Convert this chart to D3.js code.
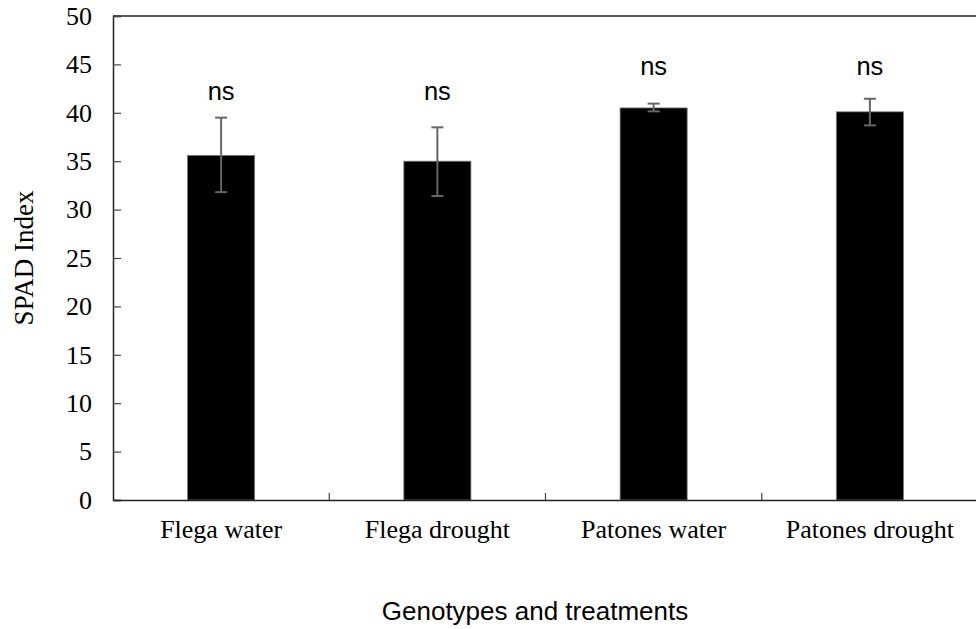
<!DOCTYPE html>
<html>
<head>
<meta charset="utf-8">
<script src="https://cdn.jsdelivr.net/npm/d3@7"></script>
<style>
  html, body { margin: 0; padding: 0; background: #fff; }
  svg { display: block; }
</style>
</head>
<body>
<svg id="chart" width="976" height="629"></svg>
<script>
// SPAD chlorophyll index per genotype × water treatment
const categories = ["Flega water", "Flega drought", "Patones water", "Patones drought"];
const means      = [35.6, 35.0, 40.5, 40.1];
const errLow     = [31.8, 31.4, 40.15, 38.7];
const errHigh    = [39.5, 38.5, 40.95, 41.45];
const sigLabels  = ["ns", "ns", "ns", "ns"];
const labelLevel = [41.3, 41.3, 43.9, 43.9];
const yTicks     = [0, 5, 10, 15, 20, 25, 30, 35, 40, 45, 50];

const width = 976, height = 629;
const margin = { top: 16, right: -2, bottom: 129, left: 113 };
const innerW = width - margin.left - margin.right;
const innerH = height - margin.top - margin.bottom;

const svg = d3.select("#chart");
const g = svg.append("g").attr("transform", `translate(${margin.left},${margin.top})`);

const x = d3.scaleBand().domain(categories).range([0, innerW]).paddingInner(0).paddingOuter(0);
const y = d3.scaleLinear().domain([0, 50]).range([innerH, 0]);

const barW = x.bandwidth() * 0.31;

// bars
g.selectAll("rect.bar")
  .data(categories)
  .join("rect")
  .attr("class", "bar")
  .attr("x", d => x(d) + x.bandwidth() / 2 - barW / 2)
  .attr("width", barW)
  .attr("y", (d, i) => y(means[i]))
  .attr("height", (d, i) => y(0) - y(means[i]))
  .attr("fill", "#000")
  .attr("stroke", "#777")
  .attr("stroke-width", 0.8);

// error bars
const capW = 12;
const eb = g.selectAll("g.err").data(categories).join("g").attr("class", "err")
  .attr("stroke", "#666").attr("stroke-width", 2);
eb.append("line")
  .attr("x1", d => x(d) + x.bandwidth() / 2)
  .attr("x2", d => x(d) + x.bandwidth() / 2)
  .attr("y1", (d, i) => y(errLow[i]))
  .attr("y2", (d, i) => y(errHigh[i]));
eb.append("line")
  .attr("x1", d => x(d) + x.bandwidth() / 2 - capW / 2)
  .attr("x2", d => x(d) + x.bandwidth() / 2 + capW / 2)
  .attr("y1", (d, i) => y(errHigh[i]))
  .attr("y2", (d, i) => y(errHigh[i]));
eb.append("line")
  .attr("x1", d => x(d) + x.bandwidth() / 2 - capW / 2)
  .attr("x2", d => x(d) + x.bandwidth() / 2 + capW / 2)
  .attr("y1", (d, i) => y(errLow[i]))
  .attr("y2", (d, i) => y(errLow[i]));

// significance labels
g.selectAll("text.sig").data(categories).join("text")
  .attr("class", "sig")
  .attr("x", d => x(d) + x.bandwidth() / 2)
  .attr("y", (d, i) => y(labelLevel[i]))
  .attr("text-anchor", "middle")
  .attr("font-family", "Liberation Sans, Arial, sans-serif")
  .attr("font-size", 25.5)
  .attr("fill", "#000")
  .text((d, i) => sigLabels[i]);

// frame: top line
g.append("line")
  .attr("x1", 0).attr("x2", innerW).attr("y1", 0).attr("y2", 0)
  .attr("stroke", "#222").attr("stroke-width", 1.5);

// y axis (ticks drawn inward)
const yAxis = g.append("g")
  .call(d3.axisLeft(y).tickValues(yTicks).tickSize(-8).tickPadding(21).tickFormat(d3.format("d")));
yAxis.select(".domain").attr("stroke", "#222").attr("stroke-width", 1.5);
yAxis.selectAll(".tick line").attr("stroke", "#444").attr("stroke-width", 1.2);
yAxis.selectAll("text")
  .attr("font-family", "Liberation Serif, Times New Roman, serif")
  .attr("font-size", 26)
  .attr("fill", "#000");

// x axis: category labels, with tick marks at category boundaries
const xAxis = g.append("g").attr("transform", `translate(0,${innerH})`)
  .call(d3.axisBottom(x).tickSize(0).tickPadding(20));
xAxis.select(".domain").attr("stroke", "#222").attr("stroke-width", 1.5);
xAxis.selectAll("text")
  .attr("font-family", "Liberation Serif, Times New Roman, serif")
  .attr("font-size", 26)
  .attr("fill", "#000");
xAxis.selectAll("line.boundary")
  .data(categories.slice(1))
  .join("line")
  .attr("class", "boundary")
  .attr("x1", d => x(d)).attr("x2", d => x(d))
  .attr("y1", 0).attr("y2", -7)
  .attr("stroke", "#444").attr("stroke-width", 1.2);

// axis titles
svg.append("text")
  .attr("x", 535)
  .attr("y", 620)
  .attr("text-anchor", "middle")
  .attr("font-family", "Liberation Sans, Arial, sans-serif")
  .attr("font-size", 26)
  .attr("fill", "#000")
  .text("Genotypes and treatments");

svg.append("text")
  .attr("transform", `translate(33,${margin.top + innerH / 2}) rotate(-90)`)
  .attr("text-anchor", "middle")
  .attr("font-family", "Liberation Serif, Times New Roman, serif")
  .attr("font-size", 27)
  .attr("fill", "#000")
  .text("SPAD Index");
</script>
</body>
</html>
